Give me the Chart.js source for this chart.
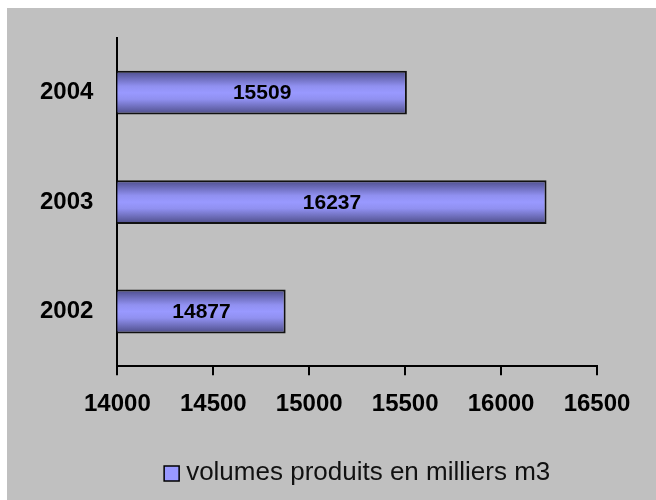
<!DOCTYPE html>
<html>
<head>
<meta charset="utf-8">
<script src="https://cdn.jsdelivr.net/npm/chart.js@4"></script>
<style>
  html, body { margin: 0; padding: 0; background: #fff; }
  #box {
    position: absolute; left: 7px; top: 8px;
    width: 649px; height: 492px;
    background: #c0c0c0;
  }
</style>
</head>
<body>
<div id="box"><canvas id="volChart" width="649" height="492"></canvas></div>
<script>
// categories top to bottom, as in the picture
const years = ['2004', '2003', '2002'];
const volumes = [15509, 16237, 14877];
const seriesName = 'volumes produits en milliers m3';
const xMin = 14000;
const xMax = 16500;
const xStep = 500;

// vertical shading of each bar, dark at the edges, light in the middle
function barGradient(context) {
  const chart = context.chart;
  if (!chart.chartArea) return '#9999ff';
  const y = chart.scales.y;
  const mid = y.getPixelForValue(context.dataIndex);
  const half = Math.abs(y.getPixelForValue(1) - y.getPixelForValue(0)) * 0.2;
  const g = chart.ctx.createLinearGradient(0, mid - half, 0, mid + half);
  g.addColorStop(0, '#4c4c8a');
  g.addColorStop(0.35, '#9090f0');
  g.addColorStop(0.5, '#9999ff');
  g.addColorStop(0.65, '#9090f0');
  g.addColorStop(1, '#4c4c86');
  return g;
}

// value written in the middle of each bar, and the legend under the plot
const extras = {
  id: 'extras',
  afterDraw(chart) {
    const ctx = chart.ctx;
    const xs = chart.scales.x;
    const ys = chart.scales.y;
    ctx.save();
    ctx.font = 'bold 21px "Liberation Sans"';
    ctx.fillStyle = '#000';
    ctx.textAlign = 'center';
    ctx.textBaseline = 'middle';
    volumes.forEach((v, i) => {
      const x = (xs.getPixelForValue(v) + xs.getPixelForValue(xMin)) / 2;
      const y = ys.getPixelForValue(i);
      ctx.fillText(String(v), x, y + 1);
    });

    const area = chart.chartArea;
    ctx.font = '26px "Liberation Sans"';
    ctx.textAlign = 'left';
    ctx.textBaseline = 'alphabetic';
    const w = ctx.measureText(seriesName).width;
    const box = 15;
    const total = box + 7 + w;
    const x0 = (area.left + area.right) / 2 - total / 2;
    const base = 472;
    ctx.fillStyle = '#9999ff';
    ctx.fillRect(x0, base - 14, box, box);
    ctx.strokeStyle = '#000';
    ctx.lineWidth = 1.5;
    ctx.strokeRect(x0, base - 14, box, box);
    ctx.fillStyle = '#111';
    ctx.fillText(seriesName, x0 + box + 7, base);
    ctx.restore();
  }
};

new Chart(document.getElementById('volChart'), {
  type: 'bar',
  data: {
    labels: years,
    datasets: [{
      label: seriesName,
      data: volumes,
      backgroundColor: barGradient,
      borderColor: '#111',
      borderWidth: 2,
      borderSkipped: 'start',
      barPercentage: 0.4,
      categoryPercentage: 1
    }]
  },
  options: {
    indexAxis: 'y',
    responsive: false,
    animation: false,
    layout: { autoPadding: false, padding: { left: 33, top: 30, right: 59, bottom: 66 } },
    plugins: {
      legend: { display: false },
      tooltip: { enabled: false }
    },
    scales: {
      x: {
        min: xMin,
        max: xMax,
        ticks: {
          stepSize: xStep,
          color: '#000',
          padding: 15,
          maxRotation: 0,
          callback: v => String(v),
          font: { family: 'Liberation Sans', size: 24, weight: 'bold' }
        },
        grid: { drawOnChartArea: false, drawTicks: true, tickLength: 9, color: '#000', lineWidth: 2 },
        border: { display: true, color: '#000', width: 2 }
      },
      y: {
        ticks: {
          color: '#000',
          padding: 0,
          font: { family: 'Liberation Sans', size: 24, weight: 'bold' }
        },
        // no visible ticks, the tick length only keeps the labels off the axis
        grid: { display: false, drawTicks: true, tickLength: 24 },
        border: { display: true, color: '#000', width: 2 }
      }
    }
  },
  plugins: [extras]
});
</script>
</body>
</html>
